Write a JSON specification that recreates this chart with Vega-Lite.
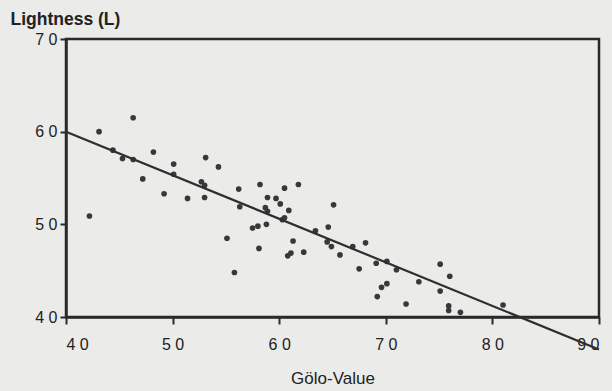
{
  "$schema": "https://vega.github.io/schema/vega-lite/v6.json",
  "width": 533,
  "height": 278,
  "autosize": "none",
  "padding": {"left": 66, "top": 39, "right": 13, "bottom": 74},
  "background": "#ebebea",
  "config": {
    "view": {"stroke": "#2a2a2a", "strokeWidth": 2.5},
    "font": "Liberation Sans"
  },
  "datasets": {
    "pts": [
      {"g": 43.1, "L": 60.0}, {"g": 46.3, "L": 61.5}, {"g": 44.4, "L": 58.0}, {"g": 45.3, "L": 57.1},
      {"g": 46.3, "L": 57.0}, {"g": 48.2, "L": 57.8}, {"g": 50.1, "L": 56.5}, {"g": 50.1, "L": 55.4},
      {"g": 47.2, "L": 54.9}, {"g": 49.2, "L": 53.3}, {"g": 51.4, "L": 52.8}, {"g": 42.2, "L": 50.9},
      {"g": 53.1, "L": 57.2}, {"g": 54.3, "L": 56.2}, {"g": 52.7, "L": 54.6}, {"g": 53.0, "L": 54.2},
      {"g": 53.0, "L": 52.9}, {"g": 56.2, "L": 53.8}, {"g": 58.2, "L": 54.3}, {"g": 56.3, "L": 51.9},
      {"g": 60.5, "L": 53.9}, {"g": 61.8, "L": 54.3}, {"g": 58.9, "L": 52.9}, {"g": 58.7, "L": 51.8},
      {"g": 58.9, "L": 51.4}, {"g": 59.7, "L": 52.8}, {"g": 60.1, "L": 52.2}, {"g": 60.9, "L": 51.5},
      {"g": 60.5, "L": 50.7}, {"g": 57.5, "L": 49.6}, {"g": 58.0, "L": 49.8}, {"g": 58.8, "L": 50.0},
      {"g": 55.1, "L": 48.5}, {"g": 58.1, "L": 47.4}, {"g": 55.8, "L": 44.8}, {"g": 61.3, "L": 48.2},
      {"g": 60.8, "L": 46.6}, {"g": 61.1, "L": 46.9}, {"g": 62.3, "L": 47.0}, {"g": 65.1, "L": 52.1},
      {"g": 64.6, "L": 49.7}, {"g": 63.4, "L": 49.3}, {"g": 64.5, "L": 48.1}, {"g": 64.9, "L": 47.6},
      {"g": 65.7, "L": 46.7}, {"g": 66.9, "L": 47.6}, {"g": 68.1, "L": 48.0}, {"g": 67.5, "L": 45.2},
      {"g": 69.1, "L": 45.8}, {"g": 70.1, "L": 46.0}, {"g": 70.1, "L": 43.6}, {"g": 69.6, "L": 43.2},
      {"g": 69.2, "L": 42.2}, {"g": 71.0, "L": 45.1}, {"g": 71.9, "L": 41.4}, {"g": 73.1, "L": 43.8},
      {"g": 75.1, "L": 45.7}, {"g": 76.0, "L": 44.4}, {"g": 75.1, "L": 42.8}, {"g": 75.9, "L": 41.2},
      {"g": 75.9, "L": 40.7}, {"g": 77.0, "L": 40.5}, {"g": 81.0, "L": 41.3}, {"g": 60.3, "L": 50.5}
    ],
    "fit": [
      {"g": 40, "L": 60.0},
      {"g": 90, "L": 36.5}
    ]
  },
  "layer": [
    {
      "data": {"name": "pts"},
      "mark": {"type": "circle", "size": 32, "color": "#383838", "opacity": 1},
      "encoding": {
        "x": {
          "field": "g", "type": "quantitative",
          "scale": {"domain": [40, 90], "nice": false, "zero": false},
          "axis": {
            "values": [40, 50, 60, 70, 80, 90],
            "labelExpr": "join(split(datum.label, ''), ' ')",
            "labelFontSize": 16, "labelColor": "#222", "labelPadding": 12,
            "tickColor": "#2a2a2a", "tickSize": 7, "tickWidth": 2,
            "domainColor": "#2a2a2a", "domainWidth": 2.5,
            "grid": false,
            "title": "Gölo-Value", "titleFontSize": 17, "titleFontWeight": "normal",
            "titleColor": "#222", "titlePadding": 18
          }
        },
        "y": {
          "field": "L", "type": "quantitative",
          "scale": {"domain": [40, 70], "nice": false, "zero": false},
          "axis": {
            "values": [40, 50, 60, 70],
            "labelExpr": "join(split(datum.label, ''), ' ')",
            "labelFontSize": 16, "labelColor": "#222", "labelPadding": 3,
            "tickColor": "#2a2a2a", "tickSize": 6, "tickWidth": 2,
            "domainColor": "#2a2a2a", "domainWidth": 2.5,
            "grid": false,
            "title": "Lightness (L)", "titleFontSize": 17.5, "titleFontWeight": "bold",
            "titleColor": "#222", "titleAngle": 0, "titleAlign": "left",
            "titleBaseline": "alphabetic", "titleX": -56, "titleY": -15
          }
        }
      }
    },
    {
      "data": {"name": "fit"},
      "mark": {"type": "line", "color": "#2e2e2e", "strokeWidth": 2.2, "clip": false},
      "encoding": {
        "x": {"field": "g", "type": "quantitative"},
        "y": {"field": "L", "type": "quantitative"}
      }
    }
  ]
}
